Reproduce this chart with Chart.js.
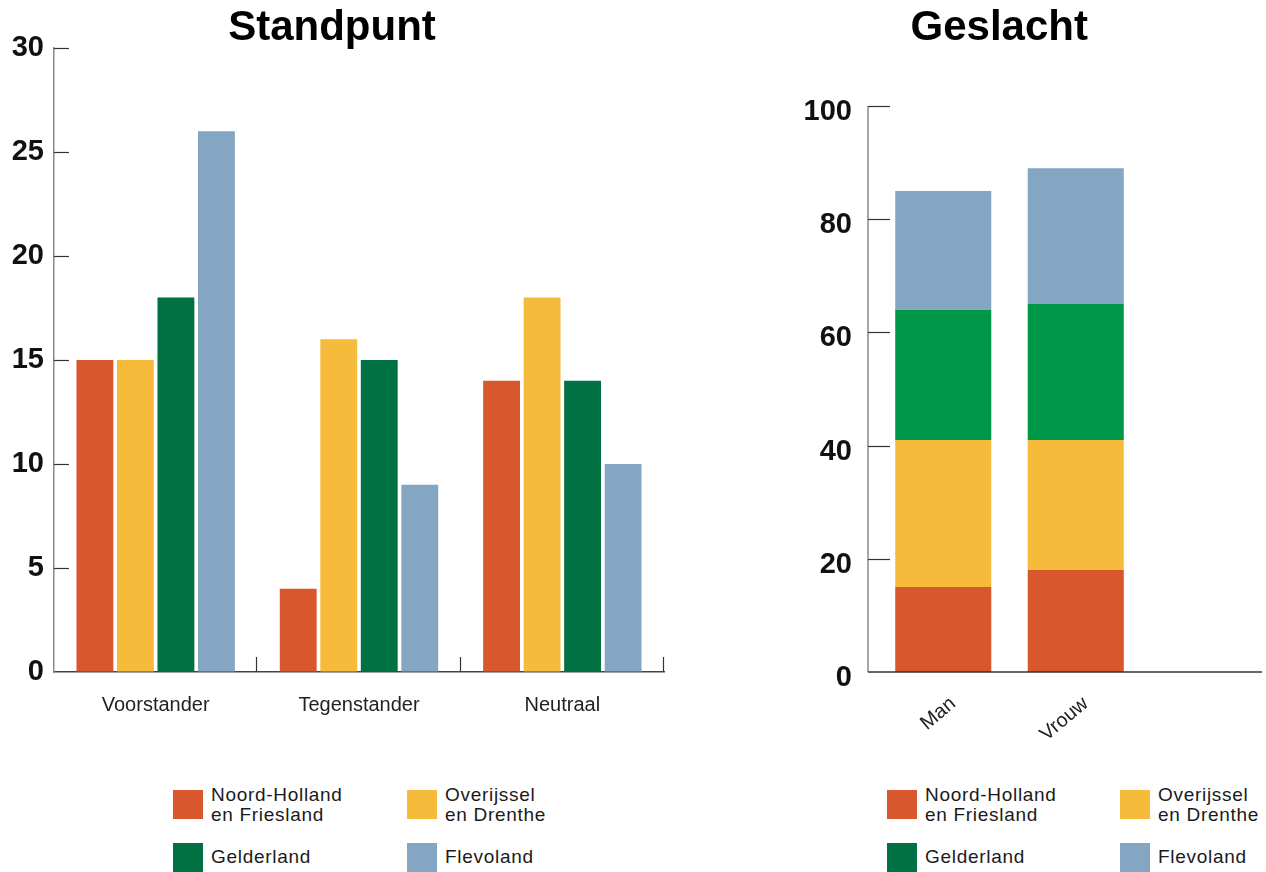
<!DOCTYPE html>
<html>
<head>
<meta charset="utf-8">
<script src="https://cdn.jsdelivr.net/npm/chart.js@4.4.1/dist/chart.umd.min.js"></script>
<style>
  html, body { margin: 0; padding: 0; background: #fff; width: 1266px; height: 872px; overflow: hidden;
    font-family: "Liberation Sans", Arial, Helvetica, sans-serif; }
  #standpunt { position: absolute; left: 0; top: 0; }
  #geslacht { position: absolute; left: 724px; top: 0; }
  .sw { position: absolute; width: 30px; height: 29px; }
  .lb { position: absolute; font-size: 19px; line-height: 20px; letter-spacing: 0.7px; color: #1a1a1a; white-space: nowrap; }
</style>
</head>
<body>
<canvas id="standpunt" width="666" height="740"></canvas>
<canvas id="geslacht" width="551" height="760"></canvas>
<div id="legends"></div>
<script>
// Regions (series) and their legend lines
const regionNames = ['Noord-Holland en Friesland', 'Overijssel en Drenthe', 'Gelderland', 'Flevoland'];
const regionLegendLines = [['Noord-Holland', 'en Friesland'], ['Overijssel', 'en Drenthe'], ['Gelderland'], ['Flevoland']];
const regionColors = ['#D8572C', '#F6BB3B', '#007142', '#84A6C2'];
const geslachtColors = ['#D8572C', '#F6BB3B', '#009848', '#84A6C2'];

// Standpunt (grouped bars)
const standpuntCategories = ['Voorstander', 'Tegenstander', 'Neutraal'];
const noordHollandStandpunt = [15, 4, 14];
const overijsselStandpunt = [15, 16, 18];
const gelderlandStandpunt = [18, 15, 14];
const flevolandStandpunt = [26, 9, 10];
const standpuntTicks = [0, 5, 10, 15, 20, 25, 30];

// Geslacht (stacked bars); the third slot is an empty category
const geslachtCategories = ['Man', 'Vrouw', ''];
const noordHollandGeslacht = [15, 18];
const overijsselGeslacht = [26, 23];
const gelderlandGeslacht = [23, 24];
const flevolandGeslacht = [21, 24];
const geslachtTicks = [0, 20, 40, 60, 80, 100];

const FONT = '"Liberation Sans", Arial, Helvetica, sans-serif';

// Axis decorations: short tick marks pointing inward from the value axis,
// optional upward marks at the category boundaries, and (when `drawLines` is set)
// axis lines drawn `inset` pixels left of the plot area.
const axisMarks = {
  id: 'axisMarks',
  afterDraw(chart, args, opts) {
    const { ctx, chartArea, scales: { x, y } } = chart;
    const inset = opts.inset || 0;
    const axisX = chartArea.left - inset;
    ctx.save();
    if (opts.drawLines) {
      ctx.lineWidth = 1.5;
      ctx.strokeStyle = '#8a8a8a';
      ctx.beginPath();
      ctx.moveTo(axisX, chartArea.top);
      ctx.lineTo(axisX, chartArea.bottom);
      ctx.stroke();
      ctx.strokeStyle = '#333';
      ctx.beginPath();
      ctx.moveTo(axisX, chartArea.bottom);
      ctx.lineTo(chartArea.right - (opts.trim || 0), chartArea.bottom);
      ctx.stroke();
    }
    ctx.strokeStyle = opts.color;
    ctx.lineWidth = 1.2;
    y.ticks.forEach((t, i) => {
      if (t.value === 0) return;
      const py = Math.round(y.getPixelForTick(i)) + 0.5;
      ctx.beginPath();
      ctx.moveTo(axisX, py);
      ctx.lineTo(axisX + opts.yLen, py);
      ctx.stroke();
    });
    if (opts.xLen) {
      const half = (x.getPixelForValue(1) - x.getPixelForValue(0)) / 2;
      for (let i = 0; i < x.ticks.length; i++) {
        const px = Math.round(x.getPixelForValue(i) + half) - 0.5;
        ctx.beginPath();
        ctx.moveTo(px, chartArea.bottom);
        ctx.lineTo(px, chartArea.bottom - opts.xLen);
        ctx.stroke();
      }
    }
    ctx.restore();
  }
};

function titleOpts(text, bottom) {
  return {
    display: true, text, color: '#000',
    font: { family: FONT, size: 42, weight: 'bold', lineHeight: 0.8 },
    padding: { top: 12, bottom }
  };
}

new Chart(document.getElementById('standpunt'), {
  type: 'bar',
  data: {
    labels: standpuntCategories,
    datasets: [
      { label: regionNames[0], data: noordHollandStandpunt, backgroundColor: regionColors[0] },
      { label: regionNames[1], data: overijsselStandpunt, backgroundColor: regionColors[1] },
      { label: regionNames[2], data: gelderlandStandpunt, backgroundColor: regionColors[2] },
      { label: regionNames[3], data: flevolandStandpunt, backgroundColor: regionColors[3] }
    ]
  },
  options: {
    responsive: false, animation: false,
    barPercentage: 0.91, categoryPercentage: 0.797,
    layout: { padding: { left: 0, right: 2, top: 0, bottom: 0 } },
    plugins: {
      legend: { display: false }, tooltip: { enabled: false },
      title: titleOpts('Standpunt', 2.4),
      axisMarks: { color: '#333', yLen: 15, xLen: 15 }
    },
    scales: {
      x: {
        grid: { display: true, drawOnChartArea: false, drawTicks: false },
        border: { display: true, color: '#444', width: 1.5 },
        ticks: { color: '#222', font: { family: FONT, size: 20 }, padding: 21 },
        afterFit(s) { s.height = 68; }
      },
      y: {
        min: 0, max: 30,
        afterBuildTicks(s) { s.ticks = standpuntTicks.map(v => ({ value: v })); },
        grid: { display: true, drawOnChartArea: false, drawTicks: false },
        border: { display: true, color: '#8a8a8a', width: 1.5 },
        ticks: { color: '#111', font: { family: FONT, size: 29, weight: 'bold' }, padding: 10 },
        afterFit(s) { s.width = 54; }
      }
    }
  },
  plugins: [axisMarks]
});

new Chart(document.getElementById('geslacht'), {
  type: 'bar',
  data: {
    labels: geslachtCategories,
    datasets: [
      { label: regionNames[0], data: noordHollandGeslacht, backgroundColor: geslachtColors[0] },
      { label: regionNames[1], data: overijsselGeslacht, backgroundColor: geslachtColors[1] },
      { label: regionNames[2], data: gelderlandGeslacht, backgroundColor: geslachtColors[2] },
      { label: regionNames[3], data: flevolandGeslacht, backgroundColor: geslachtColors[3] }
    ]
  },
  options: {
    responsive: false, animation: false,
    barPercentage: 1, categoryPercentage: 0.725,
    layout: { padding: { left: 0, right: 0.5, top: 0, bottom: 0 } },
    plugins: {
      legend: { display: false }, tooltip: { enabled: false },
      title: titleOpts('Geslacht', 60.4),
      axisMarks: { color: '#333', yLen: 22, xLen: 0, inset: 9, trim: 12.5, drawLines: true }
    },
    scales: {
      x: {
        stacked: true,
        grid: { display: false, drawTicks: false },
        border: { display: false },
        ticks: { color: '#222', font: { family: FONT, size: 20 }, padding: 20, minRotation: 40, maxRotation: 40, labelOffset: 10 },
        afterFit(s) { s.height = 88; }
      },
      y: {
        stacked: true, min: 0, max: 100,
        afterBuildTicks(s) { s.ticks = geslachtTicks.map(v => ({ value: v })); },
        grid: { display: false, drawTicks: false },
        border: { display: false },
        ticks: { color: '#111', font: { family: FONT, size: 29, weight: 'bold' }, padding: 25, labelOffset: 6 },
        afterFit(s) { s.width = 153; }
      }
    }
  },
  plugins: [axisMarks]
});

// Two-column legends under each chart
const legendHost = document.getElementById('legends');
function addLegend(colX, colors) {
  const rowY = [790, 843];
  regionLegendLines.forEach((lines, i) => {
    const col = i % 2, row = Math.floor(i / 2);
    const sw = document.createElement('div');
    sw.className = 'sw';
    sw.style.left = colX[col] + 'px';
    sw.style.top = rowY[row] + 'px';
    sw.style.background = colors[i];
    legendHost.appendChild(sw);
    const lb = document.createElement('div');
    lb.className = 'lb';
    lb.style.left = (colX[col] + 38) + 'px';
    lb.style.top = (lines.length > 1 ? rowY[row] - 5 : rowY[row] + 4) + 'px';
    lb.innerHTML = lines.join('<br>');
    legendHost.appendChild(lb);
  });
}
addLegend([173, 407], regionColors);
addLegend([887, 1120], regionColors);
</script>
</body>
</html>
